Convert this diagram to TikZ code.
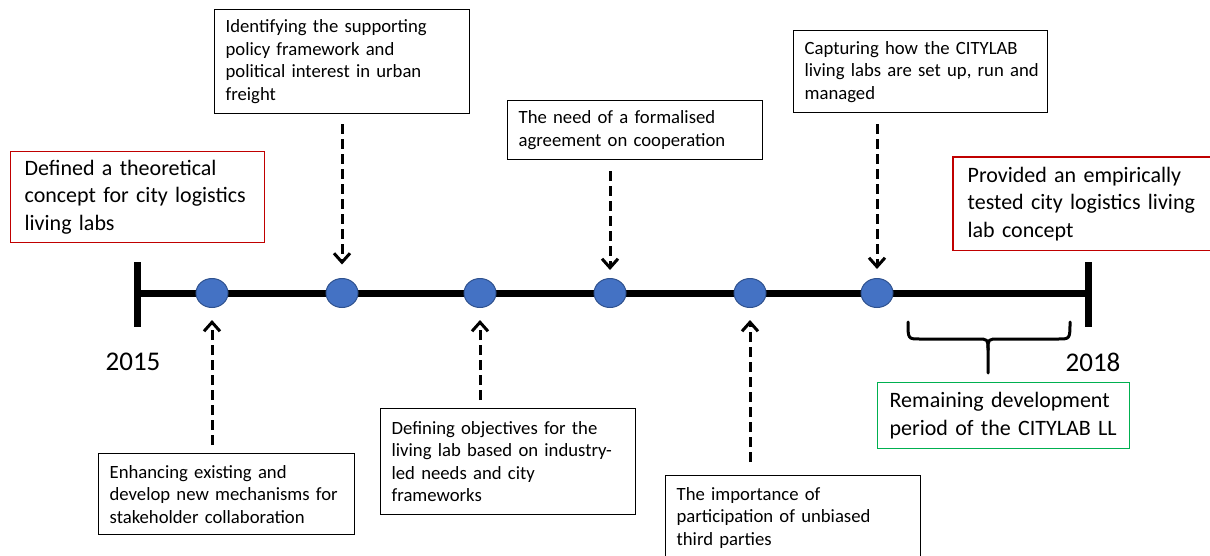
\documentclass[tikz,border=0pt]{standalone}
\usepackage{fontspec}
\setmainfont{Carlito}
\usetikzlibrary{arrows.meta,shapes.geometric}
\definecolor{dotfill}{HTML}{4472C4}
\definecolor{dotline}{HTML}{2F528F}
\definecolor{redbox}{RGB}{192,0,0}
\definecolor{greenbox}{RGB}{0,176,80}
\tikzset{
  smallbox/.style={draw=black, line width=1.3pt, rectangle, anchor=north west, align=left,
    inner xsep=11pt, inner ysep=0pt, font=\fontsize{18.7}{22.5}\selectfont},
  bigbox/.style={draw=redbox, line width=1.3pt, rectangle, anchor=north west, align=left,
    inner xsep=14pt, inner ysep=0pt, font=\fontsize{22}{27.5}\selectfont},
  tdot/.style={ellipse, fill=dotfill, draw=dotline, line width=1pt,
    minimum width=32pt, minimum height=29pt, inner sep=0pt},
  arr/.style={line width=3pt, dash pattern=on 10pt off 5pt,
    -{Straight Barb[length=9pt,width=16pt,line width=3pt]}},
  bar/.style={line width=7pt},
  bracepath/.style={line width=3pt, line cap=round, line join=round},
  yearlabel/.style={anchor=base, inner sep=0pt, font=\fontsize{27}{30}\selectfont},
}
\begin{document}
\begin{tikzpicture}[x=1pt,y=-1pt]
\useasboundingbox (0,0) rectangle (1210,555);

% right red box first
\node[bigbox, draw=none, text width=232pt, minimum height=92pt] (r2) at (953,157)
  {\mbox{Provided an empirically}\\\mbox{tested city logistics living}\\\mbox{lab concept}};
\draw[draw=redbox, line width=1.3pt] (r2.north west) rectangle (r2.south east);

% timeline
\coordinate (tl) at (137,293);
\coordinate (tr) at (1088,293);
\coordinate (tlt) at (137,262);
\coordinate (tlb) at (137,327);
\coordinate (trt) at (1088,262);
\coordinate (trb) at (1088,327);
\draw[bar] (tl) -- (tr);
\draw[bar] (tlt) -- (tlb);
\draw[bar] (trt) -- (trb);

% dots
\node[tdot] (d1) at (212,293) {};
\node[tdot] (d2) at (342,293) {};
\node[tdot] (d3) at (480,293) {};
\node[tdot] (d4) at (610,293) {};
\node[tdot] (d5) at (750,293) {};
\node[tdot] (d6) at (877,293) {};

% top boxes
\node[smallbox, text width=233pt, minimum height=104pt] (t1) at (214,9)
  {\mbox{Identifying the supporting}\\\mbox{policy framework and}\\\mbox{political interest in urban}\\freight};
\node[smallbox, text width=233pt, minimum height=59pt] (t2) at (507,100)
  {\mbox{The need of a formalised}\\\mbox{agreement on cooperation}};
\node[smallbox, text width=232pt, minimum height=82pt] (t3) at (793,30)
  {\mbox{Capturing how the CITYLAB}\\\mbox{living labs are set up, run and}\\managed};

% bottom boxes
\node[smallbox, text width=234pt, minimum height=81pt] (b1) at (98,453)
  {\mbox{Enhancing existing and}\\\mbox{develop new mechanisms for}\\\mbox{stakeholder collaboration}};
\node[smallbox, text width=233pt, minimum height=106pt] (b2) at (380,408)
  {\mbox{Defining objectives for the}\\\mbox{living lab based on industry-}\\\mbox{led needs and city}\\frameworks};
\node[smallbox, text width=233pt, minimum height=84pt] (b3) at (665,475)
  {\mbox{The importance of}\\\mbox{participation of unbiased}\\\mbox{third parties}};

% red and green boxes
\node[bigbox, text width=226pt, minimum height=91pt] (r1) at (10,151)
  {\mbox{Defined a theoretical}\\\mbox{concept for city logistics}\\\mbox{living labs}};
\node[bigbox, draw=greenbox, inner xsep=12pt, text width=228pt, minimum height=66pt] (g1) at (877,382)
  {\mbox{Remaining development}\\\mbox{period of the CITYLAB LL}};

% years
\node[yearlabel] (y15) at (133,370) {2015};
\node[yearlabel] (y18) at (1093,371) {2018};

% arrows
\draw[arr, shorten <=10pt, shorten >=13.5pt] (t1.south -| d2) -- (d2.north);
\draw[arr, shorten <=11pt, shorten >=8pt] (t2.south -| d4) -- (d4.north);
\draw[arr, shorten <=11pt, shorten >=9pt] (t3.south -| d6) -- (d6.north);
\draw[arr, shorten <=8pt, shorten >=12pt] (b1.north -| d1) -- (d1.south);
\draw[arr, shorten <=8pt, shorten >=12pt] (b2.north -| d3) -- (d3.south);
\draw[arr, shorten <=13pt, shorten >=12pt] (b3.north -| d5) -- (d5.south);

% brace
\draw[bracepath] (908,322) .. controls (908,339) and (908,339) .. (920,339)
  -- (977,339) .. controls (988,339) and (988,339) .. (988,350) -- (988,373);
\draw[bracepath] (1070,322) .. controls (1070,339) and (1070,339) .. (1058,339)
  -- (999,339) .. controls (988,339) and (988,339) .. (988,350);
\end{tikzpicture}
\end{document}
